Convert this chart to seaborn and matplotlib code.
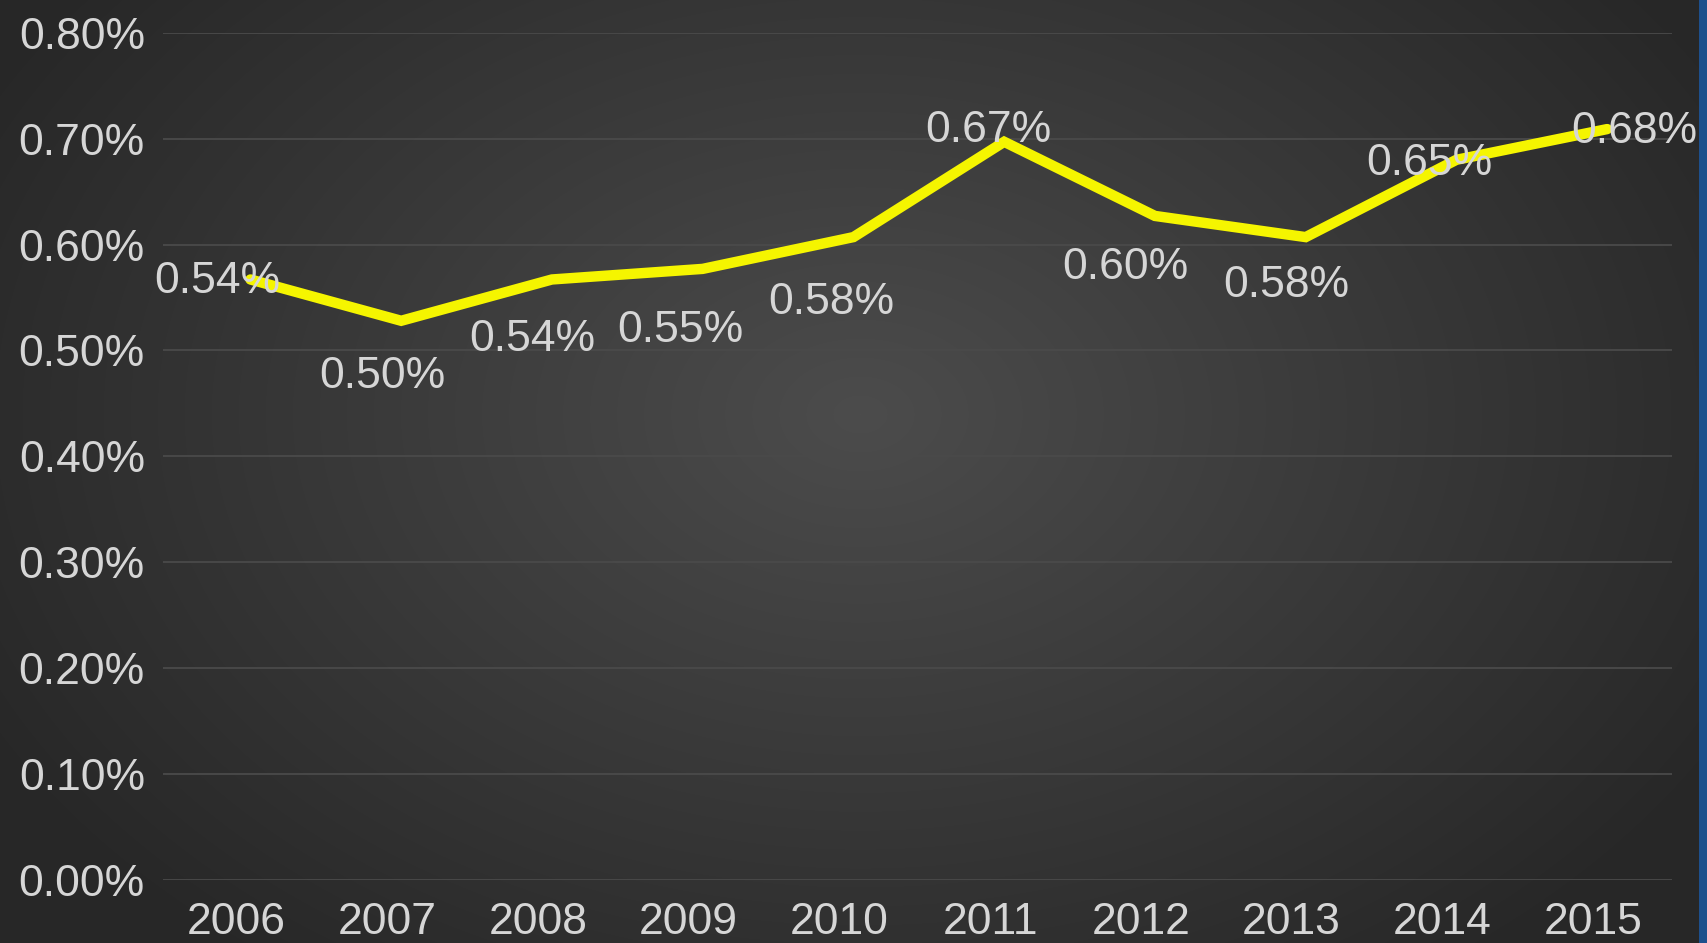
import numpy as np
import pandas as pd
import matplotlib
matplotlib.use("Agg")
import matplotlib.pyplot as plt
import matplotlib.transforms as mtransforms
import seaborn as sns
from matplotlib.ticker import FuncFormatter

# ---- data ----
years = ["2006", "2007", "2008", "2009", "2010", "2011", "2012", "2013", "2014", "2015"]
# printed data labels (percent)
label_values = [0.54, 0.50, 0.54, 0.55, 0.58, 0.67, 0.60, 0.58, 0.65, 0.68]
# line heights as drawn in the picture (percent, read against the gridlines)
line_values = [0.567, 0.528, 0.567, 0.577, 0.607, 0.697, 0.627, 0.607, 0.680, 0.709]
y_ticks = [0.0, 0.1, 0.2, 0.3, 0.4, 0.5, 0.6, 0.7, 0.8]

df = pd.DataFrame({"year": years, "pos": np.arange(len(years)), "rate": line_values})

sns.set_style("dark")
plt.rcParams["font.family"] = ["Liberation Sans", "DejaVu Sans"]

W, H = 1708, 943
fig = plt.figure(figsize=(W / 100, H / 100), dpi=100)

# radial gradient background
bg = fig.add_axes([0, 0, 1, 1])
yy, xx = np.mgrid[0:H, 0:W]
cx, cy = 860, 414
r = np.sqrt(((xx - cx) / 1000.0) ** 2 + ((yy - cy) / 700.0) ** 2)
r = np.clip(r, 0, 1)
c_in = np.array([0x4c, 0x4c, 0x4c]) / 255.0
c_out = np.array([0x27, 0x27, 0x27]) / 255.0
img = c_in[None, None, :] * (1 - r[..., None]) + c_out[None, None, :] * r[..., None]
bg.imshow(img, extent=[0, W, H, 0], aspect="auto")
bg.set_xlim(0, W)
bg.set_ylim(H, 0)
# blue frame at right edge
bg.add_patch(plt.Rectangle((1699, 0), 9, H, color="#1d4f8c", lw=0))
bg.axis("off")

ax = fig.add_axes([163 / W, 63 / H, (1672 - 163) / W, (880 - 32.7) / H])
ax.set_facecolor("none")
ax.patch.set_alpha(0)

sns.lineplot(data=df, x="pos", y="rate", ax=ax, color="#f5f500", linewidth=7.5,
             solid_joinstyle="miter", zorder=3)

ax.set_ylim(0, 0.8)
ax.set_xlim(-0.58, 9.43)
ax.set_yticks(y_ticks)
ax.yaxis.set_major_formatter(FuncFormatter(lambda v, p: f"{v:.2f}%"))
ax.set_xticks(df["pos"])
ax.set_xticklabels(years)
ax.set_xlabel("")
ax.set_ylabel("")
ax.grid(axis="y", color="#4a4a4a", linewidth=1.3)
ax.grid(axis="x", visible=False)
for s in ax.spines.values():
    s.set_visible(False)
ax.tick_params(axis="both", length=0, labelsize=32, colors="#d6d6d6")
ax.tick_params(axis="y", pad=13)
ax.tick_params(axis="x", pad=16)

shift = mtransforms.ScaledTranslation(-14 / 100, 0, fig.dpi_scale_trans)
for lbl in ax.get_xticklabels():
    lbl.set_transform(lbl.get_transform() + shift)

# label offsets (pixels) relative to points
offsets = [(-33, -2), (-19, -56), (-20, -60), (-22, -62), (-22, -65),
           (-16, 11), (-30, -52), (-19, -48), (-27, -4), (27, -2)]
for i, (v, lab) in enumerate(zip(line_values, label_values)):
    ax.annotate(f"{lab:.2f}%", xy=(i, v), xytext=offsets[i], textcoords="offset pixels",
                ha="center", va="center", fontsize=32, color="#d6d6d6", zorder=5,
                annotation_clip=False)

fig.savefig("out.png", dpi=100)
